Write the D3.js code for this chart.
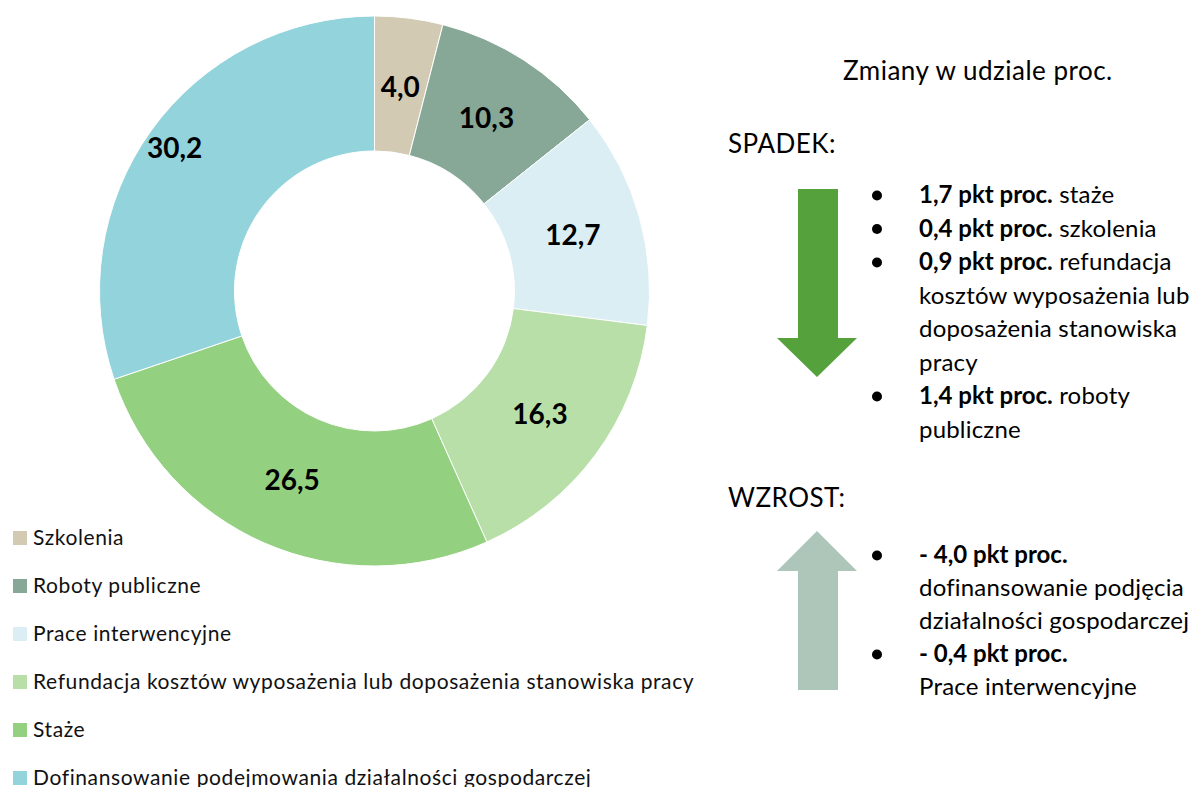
<!DOCTYPE html>
<html>
<head>
<meta charset="utf-8">
<script src="https://cdn.jsdelivr.net/npm/d3@7"></script>
<style>
  body { margin: 0; background: #fff; }
  svg { display: block; font-family: Lato, "Open Sans", sans-serif; }
</style>
</head>
<body>
<svg id="chart" width="1196" height="787"></svg>
<script>
// dane
const categories = [
  'Szkolenia',
  'Roboty publiczne',
  'Prace interwencyjne',
  'Refundacja kosztów wyposażenia lub doposażenia stanowiska pracy',
  'Staże',
  'Dofinansowanie podejmowania działalności gospodarczej'
];
const shares = [4.0, 10.3, 12.7, 16.3, 26.5, 30.2];
const colors = ['#d3cab4', '#87a896', '#daeef3', '#b8dfa8', '#93d07f', '#93d3dc'];

const decreases = [
  ['1,7 pkt proc.', ' staże'],
  ['0,4 pkt proc.', ' szkolenia'],
  ['0,9 pkt proc.', ' refundacja', 'kosztów wyposażenia lub', 'doposażenia stanowiska', 'pracy'],
  ['1,4 pkt proc.', ' roboty', 'publiczne']
];
const increases = [
  ['- 4,0 pkt proc.', '', 'dofinansowanie podjęcia', 'działalności gospodarczej'],
  ['- 0,4 pkt proc.', '', 'Prace interwencyjne']
];

const svg = d3.select('#chart');
const fmt = v => d3.format('.1f')(v).replace('.', ',');

// ---- donut ----
const cx = 374.5, cy = 291, rOut = 275, rIn = 140;
const g = svg.append('g').attr('transform', `translate(${cx},${cy})`);

const pie = d3.pie().sort(null).value(d => d.v);
const arcs = pie(shares.map((v, i) => ({ v, name: categories[i], color: colors[i] })));
const arc = d3.arc().innerRadius(rIn).outerRadius(rOut);

g.selectAll('path.slice')
  .data(arcs)
  .join('path')
  .attr('class', 'slice')
  .attr('d', arc)
  .attr('fill', d => d.data.color)
  .attr('stroke', '#fff')
  .attr('stroke-width', 1);

// etykiety - ostatnia przesunięta na zewnątrz jak w oryginale
const labelR = d => (d.index === shares.length - 1 ? 246 : 206);
g.selectAll('text.val')
  .data(arcs)
  .join('text')
  .attr('class', 'val')
  .attr('x', d => Math.sin((d.startAngle + d.endAngle) / 2) * labelR(d))
  .attr('y', d => -Math.cos((d.startAngle + d.endAngle) / 2) * labelR(d))
  .attr('dy', '0.36em')
  .attr('text-anchor', 'middle')
  .attr('font-size', 28)
  .attr('font-weight', 700)
  .attr('fill', '#000')
  .text(d => fmt(d.data.v));

// ---- legenda ----
const legend = svg.append('g').attr('transform', 'translate(13,538)');
const rows = legend.selectAll('g')
  .data(categories)
  .join('g')
  .attr('transform', (d, i) => `translate(0,${i * 48})`);
rows.append('rect')
  .attr('x', 0).attr('y', -7)
  .attr('width', 14).attr('height', 14)
  .attr('fill', (d, i) => colors[i]);
rows.append('text')
  .attr('x', 20)
  .attr('dy', '0.35em')
  .attr('font-size', 21)
  .attr('letter-spacing', 0.6)
  .attr('fill', '#111')
  .text(d => d);

// ---- prawa strona ----
const side = svg.append('g').attr('font-size', 24).attr('letter-spacing', 0.2).attr('fill', '#000');

const head = (x, y, s) => side.append('text').attr('x', x).attr('y', y)
  .attr('font-size', 26).attr('letter-spacing', 0.5).text(s);
head(843, 80, 'Zmiany w udziale proc.');
head(728, 153, 'SPADEK:');
head(728, 507, 'WZROST:');

// strzałki
const arrow = (x0, x1, hx0, hx1, yTail, yBase, yTip) => {
  const m = (hx0 + hx1) / 2;
  return `M${x0},${yTail}L${x1},${yTail}L${x1},${yBase}L${hx1},${yBase}L${m},${yTip}L${hx0},${yBase}L${x0},${yBase}Z`;
};
side.append('path').attr('d', arrow(798, 838, 777, 857, 189, 338, 377)).attr('fill', '#55a13c');
side.append('path').attr('d', arrow(798, 838, 777, 857, 690, 571, 531)).attr('fill', '#aec6ba');

function bulletList(items, y0, step) {
  let line = 0;
  items.forEach(item => {
    const y = y0 + line * step;
    side.append('circle').attr('cx', 877).attr('cy', y - 7.5).attr('r', 5).attr('fill', '#000');
    const t = side.append('text').attr('x', 919).attr('y', y);
    t.append('tspan').attr('font-weight', 700).attr('letter-spacing', 0).text(item[0]);
    if (item[1]) t.append('tspan').text(item[1]);
    line++;
    item.slice(2).forEach(s => {
      side.append('text').attr('x', 919).attr('y', y0 + line * step).text(s);
      line++;
    });
  });
}
bulletList(decreases, 203, 33.5);
bulletList(increases, 563, 33);
</script>
</body>
</html>
